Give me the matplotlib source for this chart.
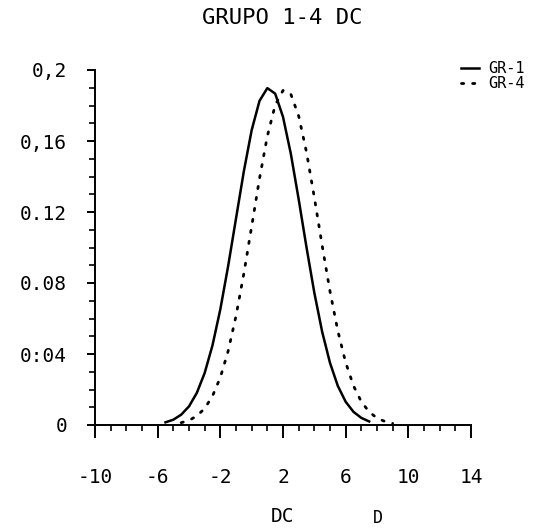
import matplotlib
matplotlib.use('Agg')
import matplotlib.pyplot as plt
from matplotlib.ticker import MultipleLocator

# values (x = DC, y = density)
x_gr1 = [-5.5, -5.0, -4.5, -4.0, -3.5, -3.0, -2.5, -2.0, -1.5, -1.0, -0.5, 0.0, 0.5,
         1.0, 1.5, 2.0, 2.5, 3.0, 3.5, 4.0, 4.5, 5.0, 5.5, 6.0, 6.5, 7.0, 7.5]
y_gr1 = [0.0015, 0.0030, 0.0058, 0.0105, 0.0181, 0.0293, 0.0449, 0.0652, 0.0896,
         0.1163, 0.1429, 0.1661, 0.1826, 0.1898, 0.1867, 0.1736, 0.1528, 0.1272,
         0.1001, 0.0745, 0.0525, 0.0350, 0.0220, 0.0131, 0.0074, 0.0040, 0.0020]

x_gr4 = [-4.5, -4.0, -3.5, -3.0, -2.5, -2.0, -1.5, -1.0, -0.5, 0.0, 0.5, 1.0, 1.5, 2.0,
         2.5, 3.0, 3.5, 4.0, 4.5, 5.0, 5.5, 6.0, 6.5, 7.0, 7.5, 8.0, 8.5, 9.0]
y_gr4 = [0.0013, 0.0026, 0.0051, 0.0093, 0.0163, 0.0268, 0.0417, 0.0614, 0.0853,
         0.1119, 0.1388, 0.1627, 0.1802, 0.1885, 0.1864, 0.1741, 0.1537, 0.1282,
         0.1011, 0.0753, 0.0530, 0.0352, 0.0221, 0.0131, 0.0074, 0.0039, 0.0020, 0.0009]

x_ticks = [-10, -6, -2, 2, 6, 10, 14]
y_ticks = [0, 0.04, 0.08, 0.12, 0.16, 0.2]
y_tick_labels = ['0', '0:04', '0.08', '0.12', '0,16', '0,2']

FONT = 'DejaVu Sans Mono'
plt.rcParams['font.family'] = FONT

W, H = 551, 528
fig = plt.figure(figsize=(W / 100, H / 100), dpi=100)
ax = fig.add_axes([95 / W, 1 - 425 / H, (471 - 95) / W, (425 - 70) / H])

ax.plot(x_gr1, y_gr1, color='black', lw=1.8, solid_joinstyle='round', label='GR-1')
ax.plot(x_gr4, y_gr4, color='black', lw=2.0, ls=(0, (0.8, 3.2)),
        dash_capstyle='round', label='GR-4')

ax.set_xlim(-10, 14)
ax.set_ylim(0, 0.2)
for side in ('top', 'right'):
    ax.spines[side].set_visible(False)
for side in ('left', 'bottom'):
    ax.spines[side].set_linewidth(1.4)

ax.set_xticks(x_ticks)
ax.set_xticklabels([str(v) for v in x_ticks])
ax.xaxis.set_minor_locator(MultipleLocator(1))
ax.set_yticks(y_ticks)
ax.set_yticklabels(y_tick_labels)
ax.yaxis.set_minor_locator(MultipleLocator(0.01))

ax.tick_params(axis='x', which='major', direction='out', length=9, width=1.4,
               pad=22, labelsize=14)
ax.tick_params(axis='x', which='minor', direction='out', length=4.5, width=1.2)
ax.tick_params(axis='y', which='major', direction='out', length=6, width=1.4,
               pad=14, labelsize=14)
ax.tick_params(axis='y', which='minor', direction='out', length=4, width=1.2)
for t in ax.get_xticklines() + ax.get_yticklines():
    t.set_clip_on(False)

fig.text(282 / W, 1 - 18 / H, 'GRUPO 1-4 DC', ha='center', va='center', fontsize=16)
fig.text(283 / W, 1 - 516 / H, 'DC', ha='center', va='center', fontsize=14)
fig.text(378 / W, 1 - 518 / H, 'D', ha='center', va='center', fontsize=12)

fig.legend(loc='upper left', bbox_to_anchor=(461 / W, 1 - 61 / H), frameon=False,
           fontsize=11, handlelength=1.2, handletextpad=0.6, labelspacing=0.0,
           borderpad=0, borderaxespad=0)

fig.savefig('out.png', dpi=100, facecolor='white')
